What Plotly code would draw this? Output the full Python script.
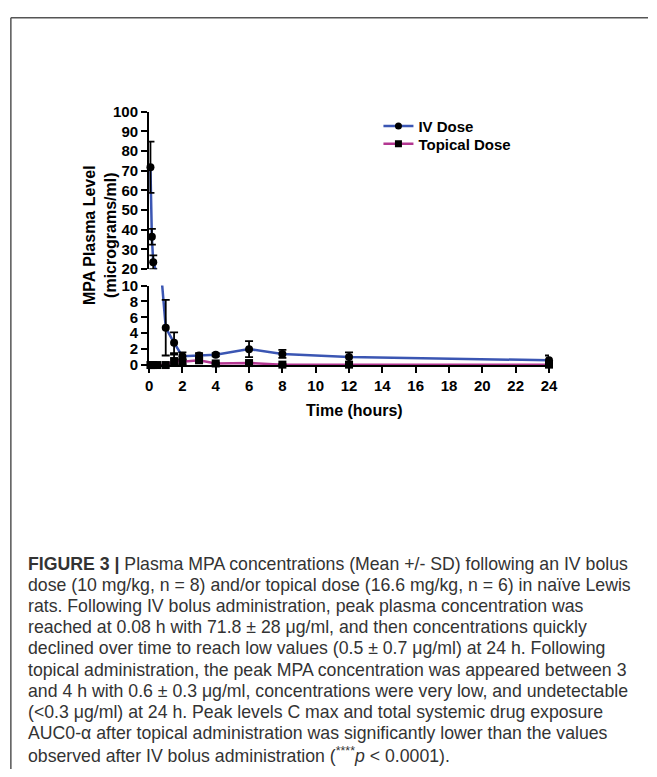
import plotly.graph_objects as go
import numpy as np

# ---------------- data ----------------
iv_time = [0.083, 0.167, 0.25, 1, 1.5, 2, 3, 4, 6, 8, 12, 24]
iv_mean = [71.8, 36.5, 23.5, 4.7, 2.8, 1.1, 1.2, 1.3, 2.0, 1.4, 1.0, 0.6]
iv_sd = [13.0, 4.0, 3.5, 3.5, 1.3, 0.5, 0.3, 0.2, 1.0, 0.5, 0.6, 0.6]

top_time = [0.083, 0.167, 0.25, 0.5, 1, 1.5, 2, 3, 4, 6, 8, 12, 24]
top_mean = [0.0, 0.0, 0.0, 0.0, 0.0, 0.5, 0.4, 0.6, 0.2, 0.25, 0.05, 0.05, 0.05]
top_sd = [0.0, 0.0, 0.0, 0.0, 0.0, 0.8, 0.3, 0.3, 0.1, 0.1, 0.05, 0.05, 0.05]

x_ticks = list(range(0, 25, 2))
y_low_ticks = [0, 2, 4, 6, 8, 10]
y_high_ticks = [20, 30, 40, 50, 60, 70, 80, 90, 100]

series_names = ["IV Dose", "Topical Dose"]

caption_lines = [
    "<b>FIGURE 3 |</b> Plasma MPA concentrations (Mean +/- SD) following an IV bolus",
    "dose (10 mg/kg, n = 8) and/or topical dose (16.6 mg/kg, n = 6) in na\u00efve Lewis",
    "rats. Following IV bolus administration, peak plasma concentration was",
    "reached at 0.08 h with 71.8 \u00b1 28 \u03bcg/ml, and then concentrations quickly",
    "declined over time to reach low values (0.5 \u00b1 0.7 \u03bcg/ml) at 24 h. Following",
    "topical administration, the peak MPA concentration was appeared between 3",
    "and 4 h with 0.6 \u00b1 0.3 \u03bcg/ml, concentrations were very low, and undetectable",
    "(&lt;0.3 \u03bcg/ml) at 24 h. Peak levels C max and total systemic drug exposure",
    "AUC0-\u03b1 after topical administration was significantly lower than the values",
    "observed after IV bolus administration (<sup>****</sup><i>p</i> &lt; 0.0001).",
]

# ---------------- layout helpers ----------------
W, H = 657, 777
def px_x(p):
    return p / W
def px_y(p):
    return 1 - p / H

FONT = "Liberation Sans, Arial, sans-serif"
BLUE = "#3b56b3"
MAGENTA = "#b33791"

fig = go.Figure()

low_range = (0, 10)
high_range = (20, 100)

def add_series(t, m, s, color, symbol, xa, ya, rng):
    t = np.array(t, float); m = np.array(m, float); s = np.array(s, float)
    fig.add_trace(go.Scatter(x=t, y=m, mode="lines", line=dict(color=color, width=2.5),
                             xaxis=xa, yaxis=ya, showlegend=False, hoverinfo="skip"))
    mask = (m >= rng[0]) & (m <= rng[1])
    fig.add_trace(go.Scatter(x=t[mask], y=m[mask], mode="markers",
                             marker=dict(color="black", size=8, symbol=symbol),
                             error_y=dict(type="data", array=s[mask], color="black",
                                          thickness=1.8, width=4),
                             xaxis=xa, yaxis=ya, showlegend=False, cliponaxis=False))

for xa, ya, rng in [("x", "y", low_range), ("x2", "y2", high_range)]:
    add_series(iv_time, iv_mean, iv_sd, BLUE, "circle", xa, ya, rng)
    add_series(top_time, top_mean, top_sd, MAGENTA, "square", xa, ya, rng)

# legend entries (one legend each for exact spacing)
fig.add_trace(go.Scatter(x=[None], y=[None], mode="lines+markers", name=series_names[0],
                         line=dict(color=BLUE, width=2.5), legend="legend",
                         marker=dict(color="black", size=7, symbol="circle")))
fig.add_trace(go.Scatter(x=[None], y=[None], mode="lines+markers", name=series_names[1],
                         line=dict(color=MAGENTA, width=2.5), legend="legend2",
                         marker=dict(color="black", size=7, symbol="square")))

tick_font = dict(family=FONT, size=15, color="black", weight="bold")
axis_common = dict(showline=True, linecolor="black", linewidth=2, ticks="outside",
                   ticklen=6, tickwidth=2, tickcolor="black", showgrid=False,
                   zeroline=False, tickfont=tick_font)

legend_common = dict(xanchor="left", yanchor="middle",
                     font=dict(family=FONT, size=15, color="black", weight="bold"),
                     itemwidth=30, bgcolor="rgba(0,0,0,0)")

xdom = [px_x(148), px_x(556)]
fig.update_layout(
    width=W, height=H,
    margin=dict(l=0, r=0, t=0, b=0),
    paper_bgcolor="white", plot_bgcolor="rgba(0,0,0,0)",
    xaxis=dict(domain=xdom, range=[0, 24], tickvals=x_ticks, anchor="y", **axis_common),
    yaxis=dict(domain=[px_y(364), px_y(282.7)], range=list(low_range), tickvals=y_low_ticks,
               anchor="x", **axis_common),
    xaxis2=dict(domain=xdom, range=[0, 24], matches="x", anchor="y2", visible=False),
    yaxis2=dict(domain=[px_y(266), px_y(105)], range=list(high_range), tickvals=y_high_ticks,
                anchor="x2", **axis_common),
    legend=dict(x=px_x(382), y=px_y(120), **legend_common),
    legend2=dict(x=px_x(382), y=px_y(138), **legend_common),
    showlegend=True,
)

annotations = [
    dict(text="<b>MPA Plasma Level<br>(micrograms/ml)</b>", x=px_x(98), y=px_y(231),
         xref="paper", yref="paper", showarrow=False, textangle=-90,
         font=dict(family=FONT, size=16, color="black"), xanchor="center", yanchor="middle"),
    dict(text="<b>Time (hours)</b>", x=px_x(358), y=px_y(410), xref="paper", yref="paper",
         showarrow=False, font=dict(family=FONT, size=16, color="black"),
         xanchor="center", yanchor="middle"),
]
for i, line in enumerate(caption_lines):
    annotations.append(dict(text=line, x=px_x(22), y=px_y(567 + 21.7 * i), xref="paper",
                            yref="paper", showarrow=False, xanchor="left", yanchor="middle",
                            font=dict(family=FONT, size=17.7, color="#333333")))
fig.update_layout(annotations=annotations)

fig.update_layout(shapes=[
    dict(type="line", xref="paper", yref="paper", x0=px_x(7), x1=1, y0=px_y(9), y1=px_y(9),
         line=dict(color="#555555", width=1.5)),
    dict(type="line", xref="paper", yref="paper", x0=px_x(7), x1=px_x(7), y0=px_y(9), y1=0,
         line=dict(color="#555555", width=1.5)),
])

fig.write_html("out.html")
